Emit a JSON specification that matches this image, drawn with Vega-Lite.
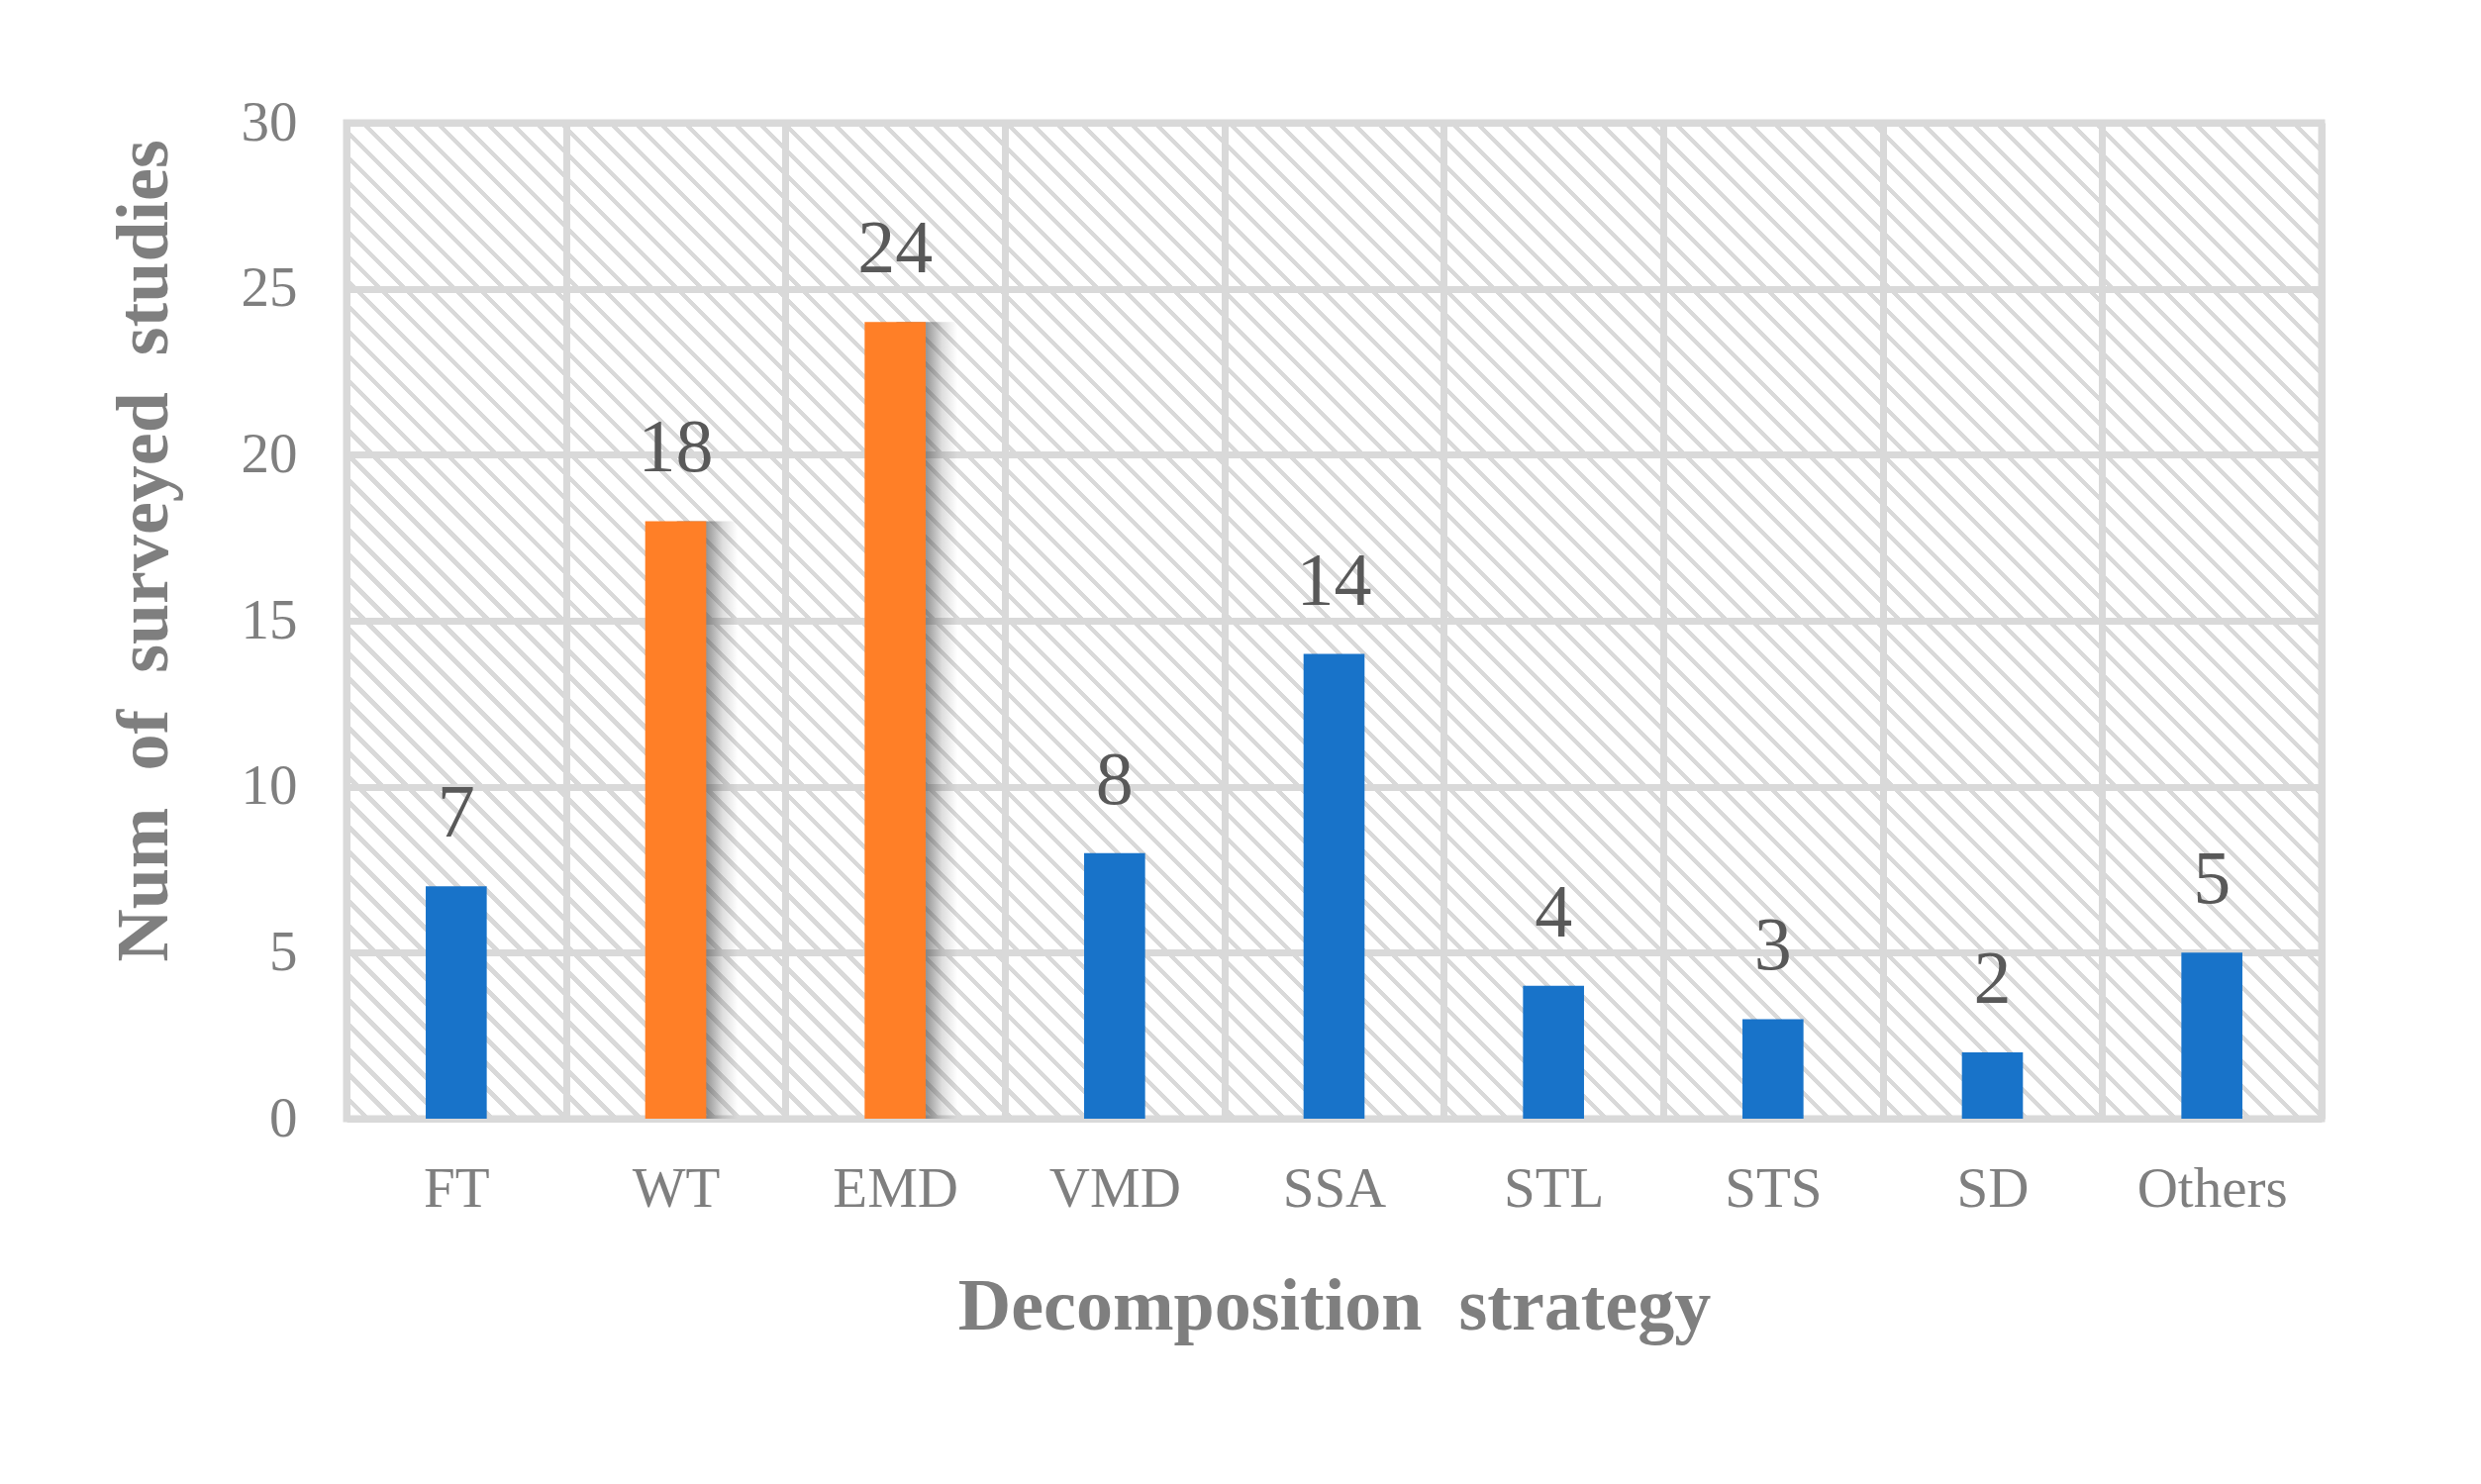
{
  "$schema": "https://vega.github.io/schema/vega-lite/v6.json",
  "width": 1995,
  "height": 1006,
  "autosize": {"type": "none"},
  "padding": {"left": 350, "top": 124, "right": 161, "bottom": 369},
  "background": "#ffffff",
  "view": {
    "stroke": "#d9d9d9",
    "strokeWidth": 7,
    "fill": {
      "gradient": "linear",
      "x1": 0, "y1": 1, "x2": 1.1993, "y2": 0.39524,
      "stops": [
{"offset":0,"color":"#fff"},{"offset":0.00625,"color":"#fff"},{"offset":0.00625,"color":"#d9d9d9"},{"offset":0.00833,"color":"#d9d9d9"},
{"offset":0.00833,"color":"#fff"},{"offset":0.01458,"color":"#fff"},{"offset":0.01458,"color":"#d9d9d9"},{"offset":0.01667,"color":"#d9d9d9"},
{"offset":0.01667,"color":"#fff"},{"offset":0.02292,"color":"#fff"},{"offset":0.02292,"color":"#d9d9d9"},{"offset":0.025,"color":"#d9d9d9"},
{"offset":0.025,"color":"#fff"},{"offset":0.03125,"color":"#fff"},{"offset":0.03125,"color":"#d9d9d9"},{"offset":0.03333,"color":"#d9d9d9"},
{"offset":0.03333,"color":"#fff"},{"offset":0.03958,"color":"#fff"},{"offset":0.03958,"color":"#d9d9d9"},{"offset":0.04167,"color":"#d9d9d9"},
{"offset":0.04167,"color":"#fff"},{"offset":0.04792,"color":"#fff"},{"offset":0.04792,"color":"#d9d9d9"},{"offset":0.05,"color":"#d9d9d9"},
{"offset":0.05,"color":"#fff"},{"offset":0.05625,"color":"#fff"},{"offset":0.05625,"color":"#d9d9d9"},{"offset":0.05833,"color":"#d9d9d9"},
{"offset":0.05833,"color":"#fff"},{"offset":0.06458,"color":"#fff"},{"offset":0.06458,"color":"#d9d9d9"},{"offset":0.06667,"color":"#d9d9d9"},
{"offset":0.06667,"color":"#fff"},{"offset":0.07292,"color":"#fff"},{"offset":0.07292,"color":"#d9d9d9"},{"offset":0.075,"color":"#d9d9d9"},
{"offset":0.075,"color":"#fff"},{"offset":0.08125,"color":"#fff"},{"offset":0.08125,"color":"#d9d9d9"},{"offset":0.08333,"color":"#d9d9d9"},
{"offset":0.08333,"color":"#fff"},{"offset":0.08958,"color":"#fff"},{"offset":0.08958,"color":"#d9d9d9"},{"offset":0.09167,"color":"#d9d9d9"},
{"offset":0.09167,"color":"#fff"},{"offset":0.09792,"color":"#fff"},{"offset":0.09792,"color":"#d9d9d9"},{"offset":0.1,"color":"#d9d9d9"},
{"offset":0.1,"color":"#fff"},{"offset":0.10625,"color":"#fff"},{"offset":0.10625,"color":"#d9d9d9"},{"offset":0.10833,"color":"#d9d9d9"},
{"offset":0.10833,"color":"#fff"},{"offset":0.11458,"color":"#fff"},{"offset":0.11458,"color":"#d9d9d9"},{"offset":0.11667,"color":"#d9d9d9"},
{"offset":0.11667,"color":"#fff"},{"offset":0.12292,"color":"#fff"},{"offset":0.12292,"color":"#d9d9d9"},{"offset":0.125,"color":"#d9d9d9"},
{"offset":0.125,"color":"#fff"},{"offset":0.13125,"color":"#fff"},{"offset":0.13125,"color":"#d9d9d9"},{"offset":0.13333,"color":"#d9d9d9"},
{"offset":0.13333,"color":"#fff"},{"offset":0.13958,"color":"#fff"},{"offset":0.13958,"color":"#d9d9d9"},{"offset":0.14167,"color":"#d9d9d9"},
{"offset":0.14167,"color":"#fff"},{"offset":0.14792,"color":"#fff"},{"offset":0.14792,"color":"#d9d9d9"},{"offset":0.15,"color":"#d9d9d9"},
{"offset":0.15,"color":"#fff"},{"offset":0.15625,"color":"#fff"},{"offset":0.15625,"color":"#d9d9d9"},{"offset":0.15833,"color":"#d9d9d9"},
{"offset":0.15833,"color":"#fff"},{"offset":0.16458,"color":"#fff"},{"offset":0.16458,"color":"#d9d9d9"},{"offset":0.16667,"color":"#d9d9d9"},
{"offset":0.16667,"color":"#fff"},{"offset":0.17292,"color":"#fff"},{"offset":0.17292,"color":"#d9d9d9"},{"offset":0.175,"color":"#d9d9d9"},
{"offset":0.175,"color":"#fff"},{"offset":0.18125,"color":"#fff"},{"offset":0.18125,"color":"#d9d9d9"},{"offset":0.18333,"color":"#d9d9d9"},
{"offset":0.18333,"color":"#fff"},{"offset":0.18958,"color":"#fff"},{"offset":0.18958,"color":"#d9d9d9"},{"offset":0.19167,"color":"#d9d9d9"},
{"offset":0.19167,"color":"#fff"},{"offset":0.19792,"color":"#fff"},{"offset":0.19792,"color":"#d9d9d9"},{"offset":0.2,"color":"#d9d9d9"},
{"offset":0.2,"color":"#fff"},{"offset":0.20625,"color":"#fff"},{"offset":0.20625,"color":"#d9d9d9"},{"offset":0.20833,"color":"#d9d9d9"},
{"offset":0.20833,"color":"#fff"},{"offset":0.21458,"color":"#fff"},{"offset":0.21458,"color":"#d9d9d9"},{"offset":0.21667,"color":"#d9d9d9"},
{"offset":0.21667,"color":"#fff"},{"offset":0.22292,"color":"#fff"},{"offset":0.22292,"color":"#d9d9d9"},{"offset":0.225,"color":"#d9d9d9"},
{"offset":0.225,"color":"#fff"},{"offset":0.23125,"color":"#fff"},{"offset":0.23125,"color":"#d9d9d9"},{"offset":0.23333,"color":"#d9d9d9"},
{"offset":0.23333,"color":"#fff"},{"offset":0.23958,"color":"#fff"},{"offset":0.23958,"color":"#d9d9d9"},{"offset":0.24167,"color":"#d9d9d9"},
{"offset":0.24167,"color":"#fff"},{"offset":0.24792,"color":"#fff"},{"offset":0.24792,"color":"#d9d9d9"},{"offset":0.25,"color":"#d9d9d9"},
{"offset":0.25,"color":"#fff"},{"offset":0.25625,"color":"#fff"},{"offset":0.25625,"color":"#d9d9d9"},{"offset":0.25833,"color":"#d9d9d9"},
{"offset":0.25833,"color":"#fff"},{"offset":0.26458,"color":"#fff"},{"offset":0.26458,"color":"#d9d9d9"},{"offset":0.26667,"color":"#d9d9d9"},
{"offset":0.26667,"color":"#fff"},{"offset":0.27292,"color":"#fff"},{"offset":0.27292,"color":"#d9d9d9"},{"offset":0.275,"color":"#d9d9d9"},
{"offset":0.275,"color":"#fff"},{"offset":0.28125,"color":"#fff"},{"offset":0.28125,"color":"#d9d9d9"},{"offset":0.28333,"color":"#d9d9d9"},
{"offset":0.28333,"color":"#fff"},{"offset":0.28958,"color":"#fff"},{"offset":0.28958,"color":"#d9d9d9"},{"offset":0.29167,"color":"#d9d9d9"},
{"offset":0.29167,"color":"#fff"},{"offset":0.29792,"color":"#fff"},{"offset":0.29792,"color":"#d9d9d9"},{"offset":0.3,"color":"#d9d9d9"},
{"offset":0.3,"color":"#fff"},{"offset":0.30625,"color":"#fff"},{"offset":0.30625,"color":"#d9d9d9"},{"offset":0.30833,"color":"#d9d9d9"},
{"offset":0.30833,"color":"#fff"},{"offset":0.31458,"color":"#fff"},{"offset":0.31458,"color":"#d9d9d9"},{"offset":0.31667,"color":"#d9d9d9"},
{"offset":0.31667,"color":"#fff"},{"offset":0.32292,"color":"#fff"},{"offset":0.32292,"color":"#d9d9d9"},{"offset":0.325,"color":"#d9d9d9"},
{"offset":0.325,"color":"#fff"},{"offset":0.33125,"color":"#fff"},{"offset":0.33125,"color":"#d9d9d9"},{"offset":0.33333,"color":"#d9d9d9"},
{"offset":0.33333,"color":"#fff"},{"offset":0.33958,"color":"#fff"},{"offset":0.33958,"color":"#d9d9d9"},{"offset":0.34167,"color":"#d9d9d9"},
{"offset":0.34167,"color":"#fff"},{"offset":0.34792,"color":"#fff"},{"offset":0.34792,"color":"#d9d9d9"},{"offset":0.35,"color":"#d9d9d9"},
{"offset":0.35,"color":"#fff"},{"offset":0.35625,"color":"#fff"},{"offset":0.35625,"color":"#d9d9d9"},{"offset":0.35833,"color":"#d9d9d9"},
{"offset":0.35833,"color":"#fff"},{"offset":0.36458,"color":"#fff"},{"offset":0.36458,"color":"#d9d9d9"},{"offset":0.36667,"color":"#d9d9d9"},
{"offset":0.36667,"color":"#fff"},{"offset":0.37292,"color":"#fff"},{"offset":0.37292,"color":"#d9d9d9"},{"offset":0.375,"color":"#d9d9d9"},
{"offset":0.375,"color":"#fff"},{"offset":0.38125,"color":"#fff"},{"offset":0.38125,"color":"#d9d9d9"},{"offset":0.38333,"color":"#d9d9d9"},
{"offset":0.38333,"color":"#fff"},{"offset":0.38958,"color":"#fff"},{"offset":0.38958,"color":"#d9d9d9"},{"offset":0.39167,"color":"#d9d9d9"},
{"offset":0.39167,"color":"#fff"},{"offset":0.39792,"color":"#fff"},{"offset":0.39792,"color":"#d9d9d9"},{"offset":0.4,"color":"#d9d9d9"},
{"offset":0.4,"color":"#fff"},{"offset":0.40625,"color":"#fff"},{"offset":0.40625,"color":"#d9d9d9"},{"offset":0.40833,"color":"#d9d9d9"},
{"offset":0.40833,"color":"#fff"},{"offset":0.41458,"color":"#fff"},{"offset":0.41458,"color":"#d9d9d9"},{"offset":0.41667,"color":"#d9d9d9"},
{"offset":0.41667,"color":"#fff"},{"offset":0.42292,"color":"#fff"},{"offset":0.42292,"color":"#d9d9d9"},{"offset":0.425,"color":"#d9d9d9"},
{"offset":0.425,"color":"#fff"},{"offset":0.43125,"color":"#fff"},{"offset":0.43125,"color":"#d9d9d9"},{"offset":0.43333,"color":"#d9d9d9"},
{"offset":0.43333,"color":"#fff"},{"offset":0.43958,"color":"#fff"},{"offset":0.43958,"color":"#d9d9d9"},{"offset":0.44167,"color":"#d9d9d9"},
{"offset":0.44167,"color":"#fff"},{"offset":0.44792,"color":"#fff"},{"offset":0.44792,"color":"#d9d9d9"},{"offset":0.45,"color":"#d9d9d9"},
{"offset":0.45,"color":"#fff"},{"offset":0.45625,"color":"#fff"},{"offset":0.45625,"color":"#d9d9d9"},{"offset":0.45833,"color":"#d9d9d9"},
{"offset":0.45833,"color":"#fff"},{"offset":0.46458,"color":"#fff"},{"offset":0.46458,"color":"#d9d9d9"},{"offset":0.46667,"color":"#d9d9d9"},
{"offset":0.46667,"color":"#fff"},{"offset":0.47292,"color":"#fff"},{"offset":0.47292,"color":"#d9d9d9"},{"offset":0.475,"color":"#d9d9d9"},
{"offset":0.475,"color":"#fff"},{"offset":0.48125,"color":"#fff"},{"offset":0.48125,"color":"#d9d9d9"},{"offset":0.48333,"color":"#d9d9d9"},
{"offset":0.48333,"color":"#fff"},{"offset":0.48958,"color":"#fff"},{"offset":0.48958,"color":"#d9d9d9"},{"offset":0.49167,"color":"#d9d9d9"},
{"offset":0.49167,"color":"#fff"},{"offset":0.49792,"color":"#fff"},{"offset":0.49792,"color":"#d9d9d9"},{"offset":0.5,"color":"#d9d9d9"},
{"offset":0.5,"color":"#fff"},{"offset":0.50625,"color":"#fff"},{"offset":0.50625,"color":"#d9d9d9"},{"offset":0.50833,"color":"#d9d9d9"},
{"offset":0.50833,"color":"#fff"},{"offset":0.51458,"color":"#fff"},{"offset":0.51458,"color":"#d9d9d9"},{"offset":0.51667,"color":"#d9d9d9"},
{"offset":0.51667,"color":"#fff"},{"offset":0.52292,"color":"#fff"},{"offset":0.52292,"color":"#d9d9d9"},{"offset":0.525,"color":"#d9d9d9"},
{"offset":0.525,"color":"#fff"},{"offset":0.53125,"color":"#fff"},{"offset":0.53125,"color":"#d9d9d9"},{"offset":0.53333,"color":"#d9d9d9"},
{"offset":0.53333,"color":"#fff"},{"offset":0.53958,"color":"#fff"},{"offset":0.53958,"color":"#d9d9d9"},{"offset":0.54167,"color":"#d9d9d9"},
{"offset":0.54167,"color":"#fff"},{"offset":0.54792,"color":"#fff"},{"offset":0.54792,"color":"#d9d9d9"},{"offset":0.55,"color":"#d9d9d9"},
{"offset":0.55,"color":"#fff"},{"offset":0.55625,"color":"#fff"},{"offset":0.55625,"color":"#d9d9d9"},{"offset":0.55833,"color":"#d9d9d9"},
{"offset":0.55833,"color":"#fff"},{"offset":0.56458,"color":"#fff"},{"offset":0.56458,"color":"#d9d9d9"},{"offset":0.56667,"color":"#d9d9d9"},
{"offset":0.56667,"color":"#fff"},{"offset":0.57292,"color":"#fff"},{"offset":0.57292,"color":"#d9d9d9"},{"offset":0.575,"color":"#d9d9d9"},
{"offset":0.575,"color":"#fff"},{"offset":0.58125,"color":"#fff"},{"offset":0.58125,"color":"#d9d9d9"},{"offset":0.58333,"color":"#d9d9d9"},
{"offset":0.58333,"color":"#fff"},{"offset":0.58958,"color":"#fff"},{"offset":0.58958,"color":"#d9d9d9"},{"offset":0.59167,"color":"#d9d9d9"},
{"offset":0.59167,"color":"#fff"},{"offset":0.59792,"color":"#fff"},{"offset":0.59792,"color":"#d9d9d9"},{"offset":0.6,"color":"#d9d9d9"},
{"offset":0.6,"color":"#fff"},{"offset":0.60625,"color":"#fff"},{"offset":0.60625,"color":"#d9d9d9"},{"offset":0.60833,"color":"#d9d9d9"},
{"offset":0.60833,"color":"#fff"},{"offset":0.61458,"color":"#fff"},{"offset":0.61458,"color":"#d9d9d9"},{"offset":0.61667,"color":"#d9d9d9"},
{"offset":0.61667,"color":"#fff"},{"offset":0.62292,"color":"#fff"},{"offset":0.62292,"color":"#d9d9d9"},{"offset":0.625,"color":"#d9d9d9"},
{"offset":0.625,"color":"#fff"},{"offset":0.63125,"color":"#fff"},{"offset":0.63125,"color":"#d9d9d9"},{"offset":0.63333,"color":"#d9d9d9"},
{"offset":0.63333,"color":"#fff"},{"offset":0.63958,"color":"#fff"},{"offset":0.63958,"color":"#d9d9d9"},{"offset":0.64167,"color":"#d9d9d9"},
{"offset":0.64167,"color":"#fff"},{"offset":0.64792,"color":"#fff"},{"offset":0.64792,"color":"#d9d9d9"},{"offset":0.65,"color":"#d9d9d9"},
{"offset":0.65,"color":"#fff"},{"offset":0.65625,"color":"#fff"},{"offset":0.65625,"color":"#d9d9d9"},{"offset":0.65833,"color":"#d9d9d9"},
{"offset":0.65833,"color":"#fff"},{"offset":0.66458,"color":"#fff"},{"offset":0.66458,"color":"#d9d9d9"},{"offset":0.66667,"color":"#d9d9d9"},
{"offset":0.66667,"color":"#fff"},{"offset":0.67292,"color":"#fff"},{"offset":0.67292,"color":"#d9d9d9"},{"offset":0.675,"color":"#d9d9d9"},
{"offset":0.675,"color":"#fff"},{"offset":0.68125,"color":"#fff"},{"offset":0.68125,"color":"#d9d9d9"},{"offset":0.68333,"color":"#d9d9d9"},
{"offset":0.68333,"color":"#fff"},{"offset":0.68958,"color":"#fff"},{"offset":0.68958,"color":"#d9d9d9"},{"offset":0.69167,"color":"#d9d9d9"},
{"offset":0.69167,"color":"#fff"},{"offset":0.69792,"color":"#fff"},{"offset":0.69792,"color":"#d9d9d9"},{"offset":0.7,"color":"#d9d9d9"},
{"offset":0.7,"color":"#fff"},{"offset":0.70625,"color":"#fff"},{"offset":0.70625,"color":"#d9d9d9"},{"offset":0.70833,"color":"#d9d9d9"},
{"offset":0.70833,"color":"#fff"},{"offset":0.71458,"color":"#fff"},{"offset":0.71458,"color":"#d9d9d9"},{"offset":0.71667,"color":"#d9d9d9"},
{"offset":0.71667,"color":"#fff"},{"offset":0.72292,"color":"#fff"},{"offset":0.72292,"color":"#d9d9d9"},{"offset":0.725,"color":"#d9d9d9"},
{"offset":0.725,"color":"#fff"},{"offset":0.73125,"color":"#fff"},{"offset":0.73125,"color":"#d9d9d9"},{"offset":0.73333,"color":"#d9d9d9"},
{"offset":0.73333,"color":"#fff"},{"offset":0.73958,"color":"#fff"},{"offset":0.73958,"color":"#d9d9d9"},{"offset":0.74167,"color":"#d9d9d9"},
{"offset":0.74167,"color":"#fff"},{"offset":0.74792,"color":"#fff"},{"offset":0.74792,"color":"#d9d9d9"},{"offset":0.75,"color":"#d9d9d9"},
{"offset":0.75,"color":"#fff"},{"offset":0.75625,"color":"#fff"},{"offset":0.75625,"color":"#d9d9d9"},{"offset":0.75833,"color":"#d9d9d9"},
{"offset":0.75833,"color":"#fff"},{"offset":0.76458,"color":"#fff"},{"offset":0.76458,"color":"#d9d9d9"},{"offset":0.76667,"color":"#d9d9d9"},
{"offset":0.76667,"color":"#fff"},{"offset":0.77292,"color":"#fff"},{"offset":0.77292,"color":"#d9d9d9"},{"offset":0.775,"color":"#d9d9d9"},
{"offset":0.775,"color":"#fff"},{"offset":0.78125,"color":"#fff"},{"offset":0.78125,"color":"#d9d9d9"},{"offset":0.78333,"color":"#d9d9d9"},
{"offset":0.78333,"color":"#fff"},{"offset":0.78958,"color":"#fff"},{"offset":0.78958,"color":"#d9d9d9"},{"offset":0.79167,"color":"#d9d9d9"},
{"offset":0.79167,"color":"#fff"},{"offset":0.79792,"color":"#fff"},{"offset":0.79792,"color":"#d9d9d9"},{"offset":0.8,"color":"#d9d9d9"},
{"offset":0.8,"color":"#fff"},{"offset":0.80625,"color":"#fff"},{"offset":0.80625,"color":"#d9d9d9"},{"offset":0.80833,"color":"#d9d9d9"},
{"offset":0.80833,"color":"#fff"},{"offset":0.81458,"color":"#fff"},{"offset":0.81458,"color":"#d9d9d9"},{"offset":0.81667,"color":"#d9d9d9"},
{"offset":0.81667,"color":"#fff"},{"offset":0.82292,"color":"#fff"},{"offset":0.82292,"color":"#d9d9d9"},{"offset":0.825,"color":"#d9d9d9"},
{"offset":0.825,"color":"#fff"},{"offset":0.83125,"color":"#fff"},{"offset":0.83125,"color":"#d9d9d9"},{"offset":0.83333,"color":"#d9d9d9"},
{"offset":0.83333,"color":"#fff"},{"offset":0.83958,"color":"#fff"},{"offset":0.83958,"color":"#d9d9d9"},{"offset":0.84167,"color":"#d9d9d9"},
{"offset":0.84167,"color":"#fff"},{"offset":0.84792,"color":"#fff"},{"offset":0.84792,"color":"#d9d9d9"},{"offset":0.85,"color":"#d9d9d9"},
{"offset":0.85,"color":"#fff"},{"offset":0.85625,"color":"#fff"},{"offset":0.85625,"color":"#d9d9d9"},{"offset":0.85833,"color":"#d9d9d9"},
{"offset":0.85833,"color":"#fff"},{"offset":0.86458,"color":"#fff"},{"offset":0.86458,"color":"#d9d9d9"},{"offset":0.86667,"color":"#d9d9d9"},
{"offset":0.86667,"color":"#fff"},{"offset":0.87292,"color":"#fff"},{"offset":0.87292,"color":"#d9d9d9"},{"offset":0.875,"color":"#d9d9d9"},
{"offset":0.875,"color":"#fff"},{"offset":0.88125,"color":"#fff"},{"offset":0.88125,"color":"#d9d9d9"},{"offset":0.88333,"color":"#d9d9d9"},
{"offset":0.88333,"color":"#fff"},{"offset":0.88958,"color":"#fff"},{"offset":0.88958,"color":"#d9d9d9"},{"offset":0.89167,"color":"#d9d9d9"},
{"offset":0.89167,"color":"#fff"},{"offset":0.89792,"color":"#fff"},{"offset":0.89792,"color":"#d9d9d9"},{"offset":0.9,"color":"#d9d9d9"},
{"offset":0.9,"color":"#fff"},{"offset":0.90625,"color":"#fff"},{"offset":0.90625,"color":"#d9d9d9"},{"offset":0.90833,"color":"#d9d9d9"},
{"offset":0.90833,"color":"#fff"},{"offset":0.91458,"color":"#fff"},{"offset":0.91458,"color":"#d9d9d9"},{"offset":0.91667,"color":"#d9d9d9"},
{"offset":0.91667,"color":"#fff"},{"offset":0.92292,"color":"#fff"},{"offset":0.92292,"color":"#d9d9d9"},{"offset":0.925,"color":"#d9d9d9"},
{"offset":0.925,"color":"#fff"},{"offset":0.93125,"color":"#fff"},{"offset":0.93125,"color":"#d9d9d9"},{"offset":0.93333,"color":"#d9d9d9"},
{"offset":0.93333,"color":"#fff"},{"offset":0.93958,"color":"#fff"},{"offset":0.93958,"color":"#d9d9d9"},{"offset":0.94167,"color":"#d9d9d9"},
{"offset":0.94167,"color":"#fff"},{"offset":0.94792,"color":"#fff"},{"offset":0.94792,"color":"#d9d9d9"},{"offset":0.95,"color":"#d9d9d9"},
{"offset":0.95,"color":"#fff"},{"offset":0.95625,"color":"#fff"},{"offset":0.95625,"color":"#d9d9d9"},{"offset":0.95833,"color":"#d9d9d9"},
{"offset":0.95833,"color":"#fff"},{"offset":0.96458,"color":"#fff"},{"offset":0.96458,"color":"#d9d9d9"},{"offset":0.96667,"color":"#d9d9d9"},
{"offset":0.96667,"color":"#fff"},{"offset":0.97292,"color":"#fff"},{"offset":0.97292,"color":"#d9d9d9"},{"offset":0.975,"color":"#d9d9d9"},
{"offset":0.975,"color":"#fff"},{"offset":0.98125,"color":"#fff"},{"offset":0.98125,"color":"#d9d9d9"},{"offset":0.98333,"color":"#d9d9d9"},
{"offset":0.98333,"color":"#fff"},{"offset":0.98958,"color":"#fff"},{"offset":0.98958,"color":"#d9d9d9"},{"offset":0.99167,"color":"#d9d9d9"},
{"offset":0.99167,"color":"#fff"},{"offset":0.99792,"color":"#fff"},{"offset":0.99792,"color":"#d9d9d9"},{"offset":1,"color":"#d9d9d9"}
      ]
    }
  },
  "data": {
    "values": [
      {"strategy": "FT", "count": 7},
      {"strategy": "WT", "count": 18},
      {"strategy": "EMD", "count": 24},
      {"strategy": "VMD", "count": 8},
      {"strategy": "SSA", "count": 14},
      {"strategy": "STL", "count": 4},
      {"strategy": "STS", "count": 3},
      {"strategy": "SD", "count": 2},
      {"strategy": "Others", "count": 5}
    ]
  },
  "encoding": {
    "x": {
      "field": "strategy",
      "type": "nominal",
      "sort": null,
      "scale": {"domain": ["FT", "WT", "EMD", "VMD", "SSA", "STL", "STS", "SD", "Others"], "paddingInner": 0, "paddingOuter": 0},
      "axis": {
        "title": "Decomposition\u00a0 strategy",
        "tickBand": "extent",
        "grid": true,
        "gridColor": "#d9d9d9",
        "gridWidth": 7,
        "ticks": false,
        "tickSize": 0,
        "domain": false,
        "labelAngle": 0,
        "labelFont": "Liberation Serif",
        "labelFontSize": 57,
        "labelColor": "#7f7f7f",
        "labelBaseline": "alphabetic",
        "labelPadding": 88,
        "titleFont": "Liberation Serif",
        "titleFontSize": 74,
        "titleFontWeight": "bold",
        "titleColor": "#7f7f7f",
        "titleBaseline": "alphabetic",
        "titleY": 212
      }
    },
    "y": {
      "field": "count",
      "type": "quantitative",
      "scale": {"domain": [0, 30], "nice": false},
      "axis": {
        "title": "Num\u00a0 of\u00a0 surveyed\u00a0 studies",
        "values": [0, 5, 10, 15, 20, 25, 30],
        "grid": true,
        "gridColor": "#d9d9d9",
        "gridWidth": 7,
        "ticks": false,
        "tickSize": 0,
        "domain": false,
        "labelFont": "Liberation Serif",
        "labelFontSize": 57,
        "labelColor": "#7f7f7f",
        "labelPadding": 50,
        "titleFont": "Liberation Serif",
        "titleFontSize": 74,
        "titleFontWeight": "bold",
        "titleColor": "#7f7f7f",
        "titleAngle": -90,
        "titleAlign": "center",
        "titleBaseline": "alphabetic",
        "titleX": -182,
        "titleY": 432
      }
    }
  },
  "layer": [
    {
      "transform": [{"filter": "datum.strategy === 'WT' || datum.strategy === 'EMD'"}],
      "mark": {
        "type": "bar",
        "width": {"band": 0.278},
        "xOffset": 32,
        "fill": {
          "gradient": "linear",
          "x1": 0, "y1": 0, "x2": 1, "y2": 0,
          "stops": [
            {"offset": 0, "color": "rgba(70,70,70,0.6)"},
            {"offset": 0.5, "color": "rgba(70,70,70,0.55)"},
            {"offset": 0.75, "color": "rgba(70,70,70,0.18)"},
            {"offset": 1, "color": "rgba(70,70,70,0)"}
          ]
        }
      }
    },
    {
      "mark": {"type": "bar", "width": {"band": 0.278}},
      "encoding": {
        "color": {
          "condition": {"test": "datum.strategy === 'WT' || datum.strategy === 'EMD'", "value": "#FF7F27"},
          "value": "#1873C9"
        }
      }
    },
    {
      "mark": {
        "type": "text",
        "baseline": "alphabetic",
        "dy": -50,
        "font": "Liberation Serif",
        "fontSize": 76,
        "color": "#595959"
      },
      "encoding": {"text": {"field": "count", "type": "quantitative"}}
    }
  ]
}
